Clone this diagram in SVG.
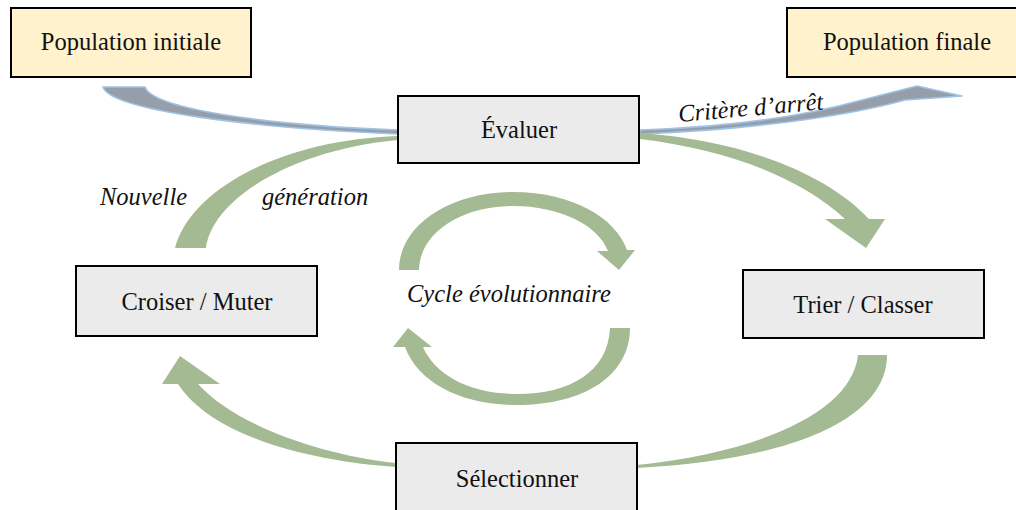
<svg xmlns="http://www.w3.org/2000/svg" width="1016" height="510" viewBox="0 0 1016 510">
  <defs>
    <style>
      .box { stroke: #000; stroke-width: 2; }
      .pop { fill: #FFF2CC; }
      .step { fill: #EBEBEB; }
      .lbl { font-family: "Liberation Serif", "Times New Roman", serif; font-size: 24.5px; fill: #111; text-anchor: middle; }
      .it { font-family: "Liberation Serif", "Times New Roman", serif; font-size: 24.5px; font-style: italic; fill: #111; }
      .green { fill: #A3BA93; }
      .grey { fill: #979DA9; stroke: #9DC3E6; stroke-width: 1.6; stroke-linejoin: round; }
    </style>
    <filter id="soft" x="-5%" y="-20%" width="110%" height="140%">
      <feGaussianBlur stdDeviation="0.5"/>
    </filter>
  </defs>

  <rect width="1016" height="510" fill="#fff"/>

  <!-- curved arrows between the steps -->
  <g id="connectors">
    <!-- start population flowing into evaluation -->
    <path class="grey" filter="url(#soft)" d="M103,87 L145,87 C152,108 260,125 398,130 L398,134 C250,128 110,110 103,87 Z"/>
    <!-- stop criterion towards final population -->
    <path class="grey" filter="url(#soft)" d="M640,130 C730,127 805,116 862,100 L917,86 L962,96 L905,100 C840,118 740,130 640,134 Z"/>
    <!-- evaluate -> sort -->
    <path class="green" d="M640,133 C740,140 825,172 869,219 L885,219 L866,248 L825,219 L845,219 C800,178 730,150 640,139 Z"/>
    <!-- sort -> select -->
    <path class="green" d="M858,355 L887,355 C887,420 790,460 637,468 L637,465 C760,452 852,412 858,355 Z"/>
    <!-- select -> crossover / mutate -->
    <path class="green" d="M396,463 C320,455 235,425 198,384 L220,384 L180,356 L162,384 L178,384 C215,440 320,462 396,467 Z"/>
    <!-- new generation back to evaluation -->
    <path class="green" d="M175,248 L206,248 C212,200 290,150 398,140 L398,136 C280,140 190,190 175,248 Z"/>
    <!-- central cycle, upper arc -->
    <path class="green" d="M399,270 C399,225 450,192 513,192 C572,192 616,218 627,250 L635,250 L619,270 L597,251 L608,251 C598,225 560,206 513,206 C462,206 420,232 419,270 Z"/>
    <!-- central cycle, lower arc -->
    <path class="green" d="M630,328 C630,375 585,405 517,405 C460,405 418,382 405,347 L393,347 L408,328 L432,347 L423,347 C435,375 470,394 517,394 C570,394 608,372 610,328 Z"/>
  </g>

  <g id="labels">
    <text class="it" x="100" y="205">Nouvelle</text>
    <text class="it" x="262" y="205">génération</text>
    <text class="it" x="407" y="302">Cycle évolutionnaire</text>
    <text class="it" x="679" y="122" transform="rotate(-5 679 122)">Critère d’arrêt</text>
  </g>

  <g id="pop-initiale">
    <rect class="box pop" x="11" y="8" width="240" height="69"/>
    <text class="lbl" x="131" y="50">Population initiale</text>
  </g>

  <g id="pop-finale">
    <rect class="box pop" x="787" y="8" width="240" height="69"/>
    <text class="lbl" x="907" y="50">Population finale</text>
  </g>

  <g id="evaluer">
    <rect class="box step" x="398" y="96" width="241" height="67"/>
    <text class="lbl" x="519" y="138">Évaluer</text>
  </g>

  <g id="croiser-muter">
    <rect class="box step" x="76" y="266" width="241" height="70"/>
    <text class="lbl" x="197" y="310">Croiser / Muter</text>
  </g>

  <g id="trier-classer">
    <rect class="box step" x="743" y="270" width="241" height="68"/>
    <text class="lbl" x="863" y="313">Trier / Classer</text>
  </g>

  <g id="selectionner">
    <rect class="box step" x="396" y="443" width="241" height="80"/>
    <text class="lbl" x="517" y="487">Sélectionner</text>
  </g>
</svg>
